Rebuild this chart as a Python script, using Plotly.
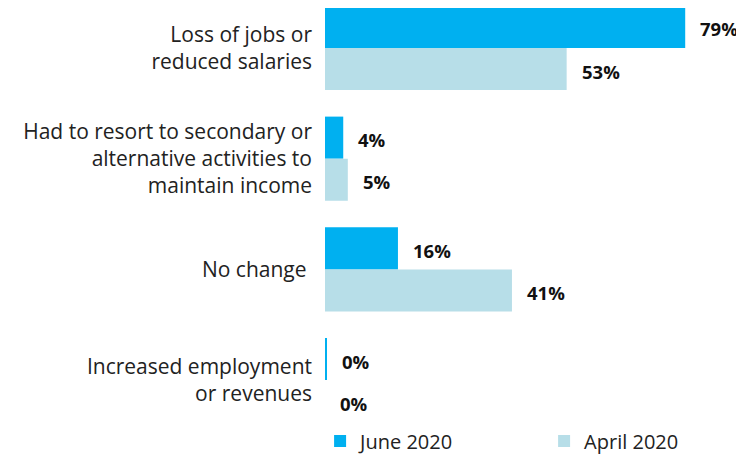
import plotly.graph_objects as go

categories = [
    "Loss of jobs or<br>reduced salaries",
    "Had to resort to secondary or<br>alternative activities to<br>maintain income",
    "No change ",
    "Increased employment<br>or revenues",
]
june_2020 = [79, 4, 16, 0.4]
april_2020 = [53, 5, 41, 0]
series_names = ["June 2020", "April 2020"]

JUNE_COLOR = "#00B0F0"
APRIL_COLOR = "#B7DEE8"
FONT = "Open Sans, Liberation Sans, sans-serif"

idx = list(range(len(categories)))

fig = go.Figure()
fig.add_trace(go.Bar(y=idx, x=june_2020, orientation="h", name=series_names[0],
                     marker=dict(color=JUNE_COLOR, line=dict(width=0))))
fig.add_trace(go.Bar(y=idx, x=april_2020, orientation="h", name=series_names[1],
                     marker=dict(color=APRIL_COLOR, line=dict(width=0))))

bargap = 0.24
half = (1 - bargap) / 4
annotations = []
for vals, off in ((june_2020, -half), (april_2020, half)):
    for i, v in enumerate(vals):
        annotations.append(dict(
            x=v, y=i + off, xref="x", yref="y", text=f"<b>{round(v)}%</b>",
            showarrow=False, xanchor="left", yanchor="middle", xshift=13, yshift=-2,
            font=dict(family=FONT, size=18.5, color="#111111")))

# The page body adds an 8px margin, so the figure is 8px smaller than the window.
fig.update_layout(
    width=736, height=448,
    margin=dict(l=317, r=10, t=0, b=46, autoexpand=False),
    barmode="group", bargap=bargap, bargroupgap=0,
    plot_bgcolor="white", paper_bgcolor="white",
    font=dict(family=FONT, size=20, color="#222222"),
    xaxis=dict(range=[0, 89.7], showgrid=False, showticklabels=False,
               zeroline=False, showline=False, ticks="", automargin=False),
    yaxis=dict(range=[3.27, -0.361], tickmode="array", tickvals=idx,
               ticktext=categories, showgrid=False, zeroline=False,
               showline=False, ticks="", ticklabelstandoff=12, automargin=False,
               tickfont=dict(family=FONT, size=21, color="#222222")),
    legend=dict(orientation="h", x=-0.012, xref="paper", y=-0.077, yanchor="middle",
                xanchor="left", entrywidth=179, entrywidthmode="pixels",
                font=dict(family=FONT, size=20, color="#222222"),
                itemwidth=30, traceorder="normal"),
    annotations=annotations,
    showlegend=True,
)

fig.write_html("out.html")
